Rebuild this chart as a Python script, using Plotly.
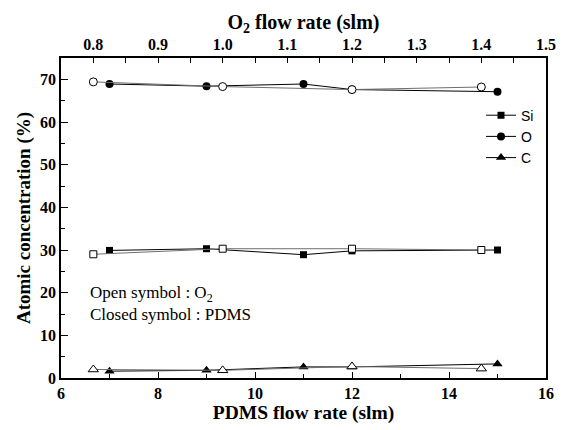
import plotly.graph_objects as go

# Closed symbols: PDMS flow rate (bottom axis)
pdms_flow = [7, 9, 11, 12, 15]
si_pdms = [29.9, 30.3, 28.9, 29.8, 30.0]
o_pdms = [68.9, 68.4, 68.9, 67.6, 67.1]
c_pdms = [1.6, 1.8, 2.6, 2.6, 3.3]

# Open symbols: O2 flow rate (top axis)
o2_flow = [0.8, 1.0, 1.2, 1.4]
si_o2 = [29.0, 30.3, 30.3, 30.0]
o_o2 = [69.4, 68.3, 67.6, 68.2]
c_o2 = [2.0, 1.8, 2.7, 2.2]

series = [
    ("Si", si_pdms, si_o2, "square", 7),
    ("O", o_pdms, o_o2, "circle", 8),
    ("C", c_pdms, c_o2, "triangle-up", 9),
]

fig = go.Figure()
for name, yc, yo, sym, sz in series:
    fig.add_trace(go.Scatter(
        x=o2_flow, y=yo, xaxis="x2", mode="lines+markers", showlegend=False,
        line=dict(color="#6e6e6e", width=1),
        marker=dict(symbol=sym, size=sz, color="white", line=dict(color="black", width=1)),
    ))
for name, yc, yo, sym, sz in series:
    fig.add_trace(go.Scatter(
        x=pdms_flow, y=yc, mode="lines+markers", name=name,
        line=dict(color="black", width=1),
        marker=dict(symbol=sym, size=sz, color="black", line=dict(color="black", width=0)),
    ))

serif = "Liberation Serif"
axis_common = dict(showline=True, linecolor="black", linewidth=1.5, ticks="inside",
                   tickcolor="black", tickwidth=1, showgrid=False, zeroline=False,
                   tickfont=dict(family=serif, size=16, color="black", weight="bold"))

fig.update_layout(
    width=568, height=430,
    margin=dict(l=61, r=15, t=58, b=44),
    paper_bgcolor="white", plot_bgcolor="white",
    xaxis=dict(range=[6, 16], dtick=2, tick0=6, ticklen=6, mirror=False,
               minor=dict(dtick=1, ticks="inside", ticklen=4, tickcolor="black"),
               title=dict(text="<b>PDMS flow rate (slm)</b>", standoff=2,
                          font=dict(family=serif, size=19.5, color="black")),
               **axis_common),
    xaxis2=dict(range=[0.75, 1.5], dtick=0.1, tick0=0.8, ticklen=5, overlaying="x", side="top",
                tickformat=".1f",
                minor=dict(dtick=0.05, ticks="inside", ticklen=5, tickcolor="black"),
                title=dict(text="<b>O<sub>2</sub> flow rate (slm)</b>", standoff=1,
                           font=dict(family=serif, size=20, color="black")),
                **axis_common),
    yaxis=dict(range=[0, 75], dtick=10, ticklen=7, mirror=True,
               minor=dict(dtick=5, ticks="inside", ticklen=4, tickcolor="black"),
               title=dict(text="<b>Atomic concentration (%)</b>", standoff=4,
                          font=dict(family=serif, size=19, color="black")),
               **axis_common),
    legend=dict(x=0.866, y=0.87, xanchor="left", yanchor="top", bgcolor="rgba(0,0,0,0)",
                font=dict(family="Liberation Sans", size=14, color="black"), tracegroupgap=0),
    annotations=[
        dict(x=6.55, y=17.5, xref="x", yref="y", xanchor="left", yanchor="middle", align="left",
             text="Open symbol : O<sub>2</sub><br>Closed symbol : PDMS", showarrow=False,
             font=dict(family=serif, size=17, color="black")),
    ],
)

fig.write_html(
    "out.html",
    config={"displayModeBar": False},
    post_script="document.body.style.margin='0';document.body.style.overflow='hidden';",
)
